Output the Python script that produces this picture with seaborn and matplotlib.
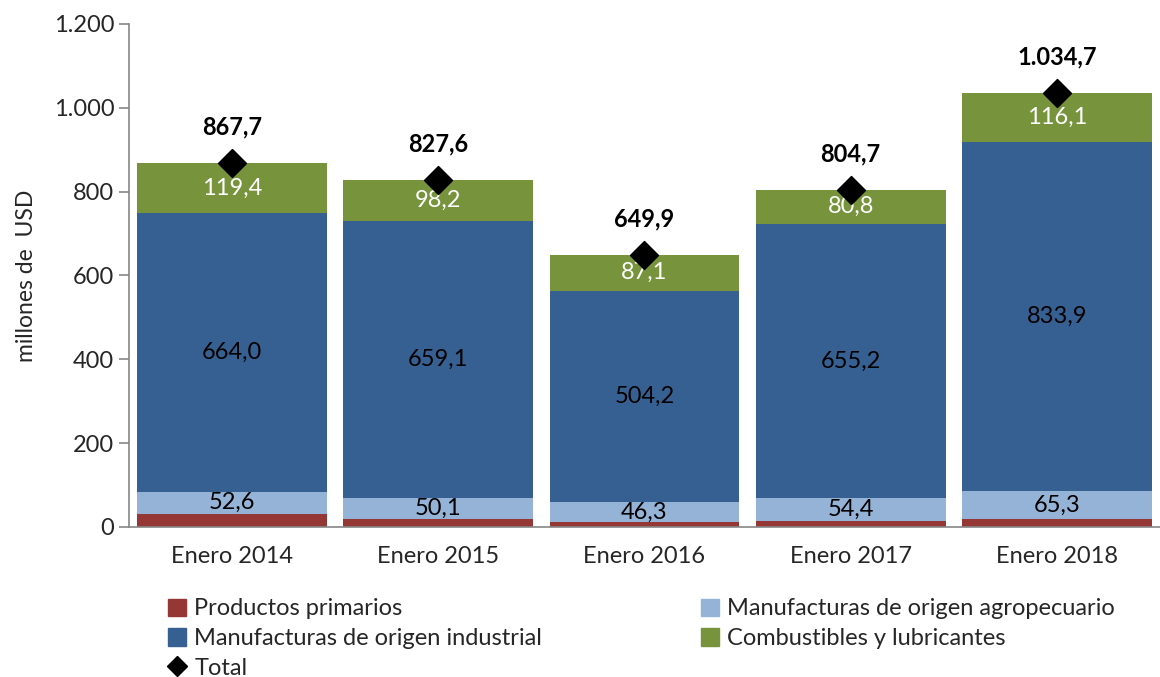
import numpy as np
import pandas as pd
import seaborn as sns
import matplotlib.pyplot as plt
import matplotlib.ticker as mtick
from matplotlib.lines import Line2D
from matplotlib.patches import Patch

periods = ["Enero 2014", "Enero 2015", "Enero 2016", "Enero 2017", "Enero 2018"]
primarios = [31.7, 20.2, 12.3, 14.3, 19.4]
moa = [52.6, 50.1, 46.3, 54.4, 65.3]
moi = [664.0, 659.1, 504.2, 655.2, 833.9]
combustibles = [119.4, 98.2, 87.1, 80.8, 116.1]
total = [867.7, 827.6, 649.9, 804.7, 1034.7]

series_names = ["Productos primarios", "Manufacturas de origen agropecuario",
                "Manufacturas de origen industrial", "Combustibles y lubricantes"]
colors = ["#953735", "#95B3D7", "#376092", "#77933C"]
label_colors = [None, "black", "black", "white"]

sns.set_theme(style="white")
plt.rcParams["font.family"] = ["Lato", "DejaVu Sans"]

fig = plt.figure(figsize=(11.6, 6.77), dpi=100)
ax = fig.add_axes([0.111, 0.2216, 0.889, 0.743])

# stacked bars, one seaborn call per series
df = pd.DataFrame({"period": periods})
values = [primarios, moa, moi, combustibles]
bottom = np.zeros(len(periods))
for name, vals, col, lc in zip(series_names, values, colors, label_colors):
    df["value"] = vals
    sns.barplot(data=df, x="period", y="value", color=col, width=0.92,
                bottom=bottom, ax=ax, linewidth=0, saturation=1)
    if lc is not None:
        for i, v in enumerate(vals):
            ax.text(i, bottom[i] + v / 2, f"{v:.1f}".replace(".", ","),
                    ha="center", va="center", fontsize=17, color=lc)
    bottom = bottom + np.array(vals)

# total markers and labels
tdf = pd.DataFrame({"period": periods, "total": total})
sns.scatterplot(data=tdf, x="period", y="total", marker="D", s=200,
                color="black", ax=ax, zorder=5, edgecolor="black")
for i, t in enumerate(total):
    lbl = f"{t:,.1f}".replace(",", "X").replace(".", ",").replace("X", ".")
    ax.text(i, t + 86, lbl, ha="center", va="center", fontsize=17,
            fontweight="bold", color="black")

ax.set_xlim(-0.5, 4.5)
ax.set_ylim(0, 1200)
ax.set_yticks(range(0, 1201, 200))
ax.yaxis.set_major_formatter(mtick.FuncFormatter(lambda x, p: f"{x:,.0f}".replace(",", ".")))
ax.set_xlabel("")
ax.set_ylabel("millones de  USD", fontsize=16.5, labelpad=12)

ax.set_xticks(np.arange(len(periods)))
ax.set_xticklabels(periods)
ax.set_xticks(np.arange(-0.5, 4.6, 1), minor=True)
ax.tick_params(axis="x", which="major", length=0, labelsize=17, pad=14)
ax.tick_params(axis="x", which="minor", length=7, width=1.2, color="#868686")
ax.tick_params(axis="y", which="major", length=7, width=1.2, color="#868686",
               labelsize=17, left=True, direction="out")

for s in ["top", "right"]:
    ax.spines[s].set_visible(False)
for s in ["left", "bottom"]:
    ax.spines[s].set_color("#868686")
    ax.spines[s].set_linewidth(1.2)

handles = [Patch(color=colors[0]), Patch(color=colors[2]),
           Line2D([], [], marker="D", color="black", linestyle="none", markersize=10),
           Patch(color=colors[1]), Patch(color=colors[3])]
labels = [series_names[0], series_names[2], "Total", series_names[1], series_names[3]]
fig.legend(handles, labels, ncol=2, loc="upper left", bbox_to_anchor=(0.145, 0.116),
           frameon=False, fontsize=17, handlelength=0.75, handleheight=0.75,
           handletextpad=0.35, columnspacing=6.75, labelspacing=0.37, borderaxespad=0,
           borderpad=0)

fig.savefig("out.png", dpi=100)
